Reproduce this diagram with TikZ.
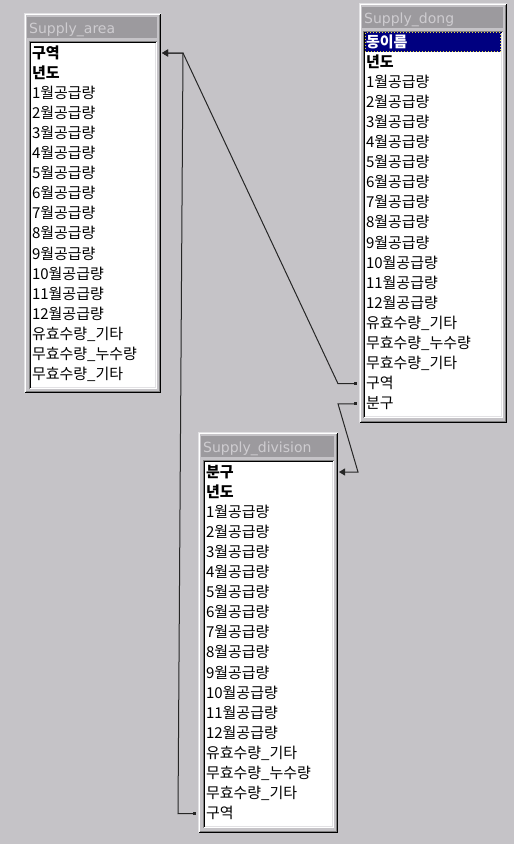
\documentclass[tikz,border=0pt]{standalone}
\usepackage{fontspec}
\newfontfamily\kr{Noto Sans CJK KR}
\newfontfamily\ttlfont{DejaVu Sans}
\usetikzlibrary{fit,arrows.meta}
\definecolor{bg}{RGB}{197,195,199}
\definecolor{face}{RGB}{197,195,199}
\definecolor{ttlbg}{RGB}{156,154,158}
\definecolor{ttlfg}{RGB}{206,204,208}
\definecolor{shadow}{RGB}{128,128,128}
\definecolor{hilite}{RGB}{226,225,228}
\definecolor{navy}{RGB}{0,0,128}
\definecolor{focus}{RGB}{230,220,60}
\newcommand\bevel[6]{%
  \draw[#5,line width=1pt] (#1+.5,#4-.5) -- (#1+.5,#2+.5) -- (#3-.5,#2+.5);
  \draw[#6,line width=1pt] (#1+.5,#4-.5) -- (#3-.5,#4-.5) -- (#3-.5,#2+.5);}
\newcommand\winbox[9]{%
  % #1 name, #2 x1, #3 y1, #4 x2, #5 y2, #6 title, #7 list x1, #8 list x2, #9 list y2
  \node[fit={(#2,#3) (#4,#5)}, inner sep=0pt, outer sep=0pt, fill=face] (#1) {};
  \bevel{#2}{#3}{#4}{#5}{hilite}{black}
  \bevel{#2+1}{#3+1}{#4-1}{#5-1}{white}{shadow}
  \fill[ttlbg] (#2+3,#3+4) rectangle (#4-4,#3+25);
  \node[titletext] (#1-title) at (#2+5,#3+20) {#6};
  \fill[white] (#7,#3+28) rectangle (#8,#9);
  \bevel{#7}{#3+28}{#8}{#9}{shadow}{white}
  \bevel{#7+1}{#3+29}{#8-1}{#9-1}{black}{hilite}}
\begin{document}
\begin{tikzpicture}[x=1pt,y=-1pt,
  rowtext/.style={anchor=west, inner sep=0pt, outer sep=0pt,
    font=\kr\fontsize{15}{17}\selectfont, text height=12.5pt, text depth=2.5pt},
  keyrow/.style={rowtext, font=\kr\bfseries\fontsize{15}{17}\selectfont},
  titletext/.style={anchor=base west, inner sep=0pt, text=ttlfg,
    font=\ttlfont\fontsize{14}{16}\selectfont},
  conn/.style={draw=black!85, line width=1pt,
    {Square[length=3pt,width=3pt]}-{Triangle[length=6pt,width=7pt]}}]
\useasboundingbox (0,0) rectangle (514,844);
\fill[bg] (0,0) rectangle (514,844);

% ---------- Supply_area ----------
\winbox{area}{24}{13}{161}{393}{Supply\_area}{29}{157}{389}
\node[keyrow] (a0) at (32,53) {구역};
\node[keyrow] (a1) at (32,53+20.1) {년도};
\foreach \t [count=\i from 2] in {1월공급량,2월공급량,3월공급량,4월공급량,5월공급량,6월공급량,7월공급량,8월공급량,9월공급량,10월공급량,11월공급량,12월공급량,유효수량\_기타,무효수량\_누수량,무효수량\_기타}
  \node[rowtext] (a\i) at (32,53+20.1*\i) {\t};

% ---------- Supply_dong ----------
\winbox{dong}{359}{3}{507}{423}{Supply\_dong}{363}{503}{418}
\fill[navy] (365,32) rectangle (501,52);
\draw[focus, dotted, line width=1pt] (365.5,32.5) rectangle (500.5,51.5);
\node[keyrow, text=white] (d0) at (366,42) {동이름};
\node[keyrow] (d1) at (366,42+20.1) {년도};
\foreach \t [count=\i from 2] in {1월공급량,2월공급량,3월공급량,4월공급량,5월공급량,6월공급량,7월공급량,8월공급량,9월공급량,10월공급량,11월공급량,12월공급량,유효수량\_기타,무효수량\_누수량,무효수량\_기타,구역,분구}
  \node[rowtext] (d\i) at (366,42+20.1*\i) {\t};

% ---------- Supply_division ----------
\winbox{div}{198}{432}{338}{833}{Supply\_division}{203}{334}{828}
\node[keyrow] (v0) at (206,472) {분구};
\node[keyrow] (v1) at (206,472+20.1) {년도};
\foreach \t [count=\i from 2] in {1월공급량,2월공급량,3월공급량,4월공급량,5월공급량,6월공급량,7월공급량,8월공급량,9월공급량,10월공급량,11월공급량,12월공급량,유효수량\_기타,무효수량\_누수량,무효수량\_기타,구역}
  \node[rowtext] (v\i) at (206,472+20.1*\i) {\t};

% ---------- connectors ----------
\coordinate (jA) at ([xshift=22pt]area.east |- a0);
\coordinate (tA) at ([xshift=1pt]area.east |- a0);
\coordinate (jB) at ([xshift=20pt]div.east |- v0);
\coordinate (tB) at ([xshift=1pt]div.east |- v0);
\draw[conn] ([xshift=-2pt]dong.west |- d17) -- ([xshift=-21pt]dong.west |- d17) -- (jA) -- (tA);
\draw[conn] ([xshift=-2pt]div.west |- v17) -- ([xshift=-20pt]div.west |- v17) -- (jA) -- (tA);
\draw[conn] ([xshift=-2pt]dong.west |- d18) -- ([xshift=-21pt]dong.west |- d18) -- (jB) -- (tB);
\end{tikzpicture}
\end{document}
